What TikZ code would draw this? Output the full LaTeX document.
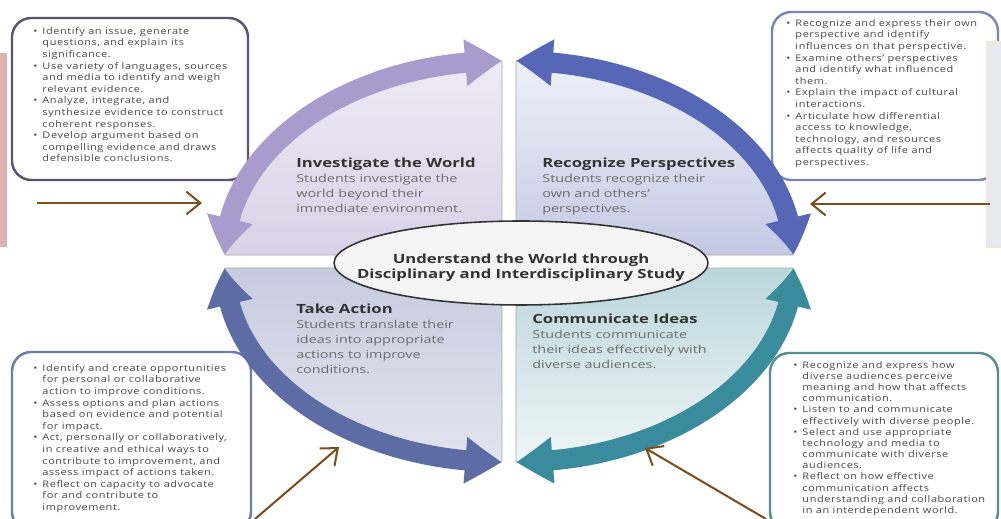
\documentclass[tikz,border=0pt]{standalone}
\usepackage{fontspec}
\usepackage{tikz}
\usetikzlibrary{arrows.meta,bending,shapes.geometric}
\setmainfont{Open Sans}
\newfontfamily\boxfont[FakeStretch=1.2,LetterSpace=6]{Open Sans}
\newfontfamily\quadfont[FakeStretch=1.32]{Open Sans}

\definecolor{pinkbar}{HTML}{D9B5AF}
\definecolor{greypanel}{HTML}{E7E8F0}
\definecolor{creamline}{HTML}{F2E6D6}
\definecolor{pointerbrown}{HTML}{7B4F1D}
\definecolor{investcol}{HTML}{A99BCB}
\definecolor{recogcol}{HTML}{5567B5}
\definecolor{actcol}{HTML}{5D6CA4}
\definecolor{commcol}{HTML}{3A8C9C}

\newcommand{\bu}{\makebox[5.2pt][l]{\textbullet}}
\newcommand{\hg}{\hspace*{5.2pt}}
\newcommand{\qtitle}[1]{{\color{black!80}\bfseries\fontsize{7.2}{8.54}\selectfont #1}}

\tikzset{
	infobox/.style={draw=#1, line width=1.4pt, rounded corners=11pt, fill=white},
	infotext/.style={anchor=north west, inner sep=0pt, align=left, text=black!72, font=\boxfont\fontsize{5.2}{6.6}\selectfont},
	quadtext/.style={anchor=north west, inner sep=0pt, align=left, text=black!58, font=\quadfont\fontsize{6.2}{8.54}\selectfont},
	quadfill/.style={draw=black!35, line width=0.5pt, top color=#1},
	cyclearrow/.style={draw=#1, line width=11.5pt, {Triangle[width=25pt,length=21pt,bend]}-{Triangle[width=25pt,length=21pt,bend]}},
	pointer/.style={draw=pointerbrown, line width=1.15pt, -{Straight Barb[length=8pt,width=13pt]}}
}

\begin{document}
\begin{tikzpicture}[x=0.02cm,y=0.02cm]
	\useasboundingbox (0,0) rectangle (1001,519);
	\fill[white] (0,0) rectangle (1001,519);

	\fill[pinkbar] (0,272) rectangle (7,466);
	\draw[infobox=black!45!investcol] (12,339) rectangle (248,501);
	\draw[infobox=black!20!recogcol!70] (772,339) rectangle (998,507);
	\draw[fill=greypanel, draw=creamline, line width=1pt] (987,272) rectangle (1006,477);
	\draw[infobox=actcol!90] (12,-12) rectangle (251,167);
	\draw[infobox=commcol!80!black!80] (770,-12) rectangle (998,166);

	\node[infotext] (t1) at (33,492) {\bu Identify an issue, generate\\
		\hg questions, and explain its\\
		\hg significance.\\
		\bu Use variety of languages, sources\\
		\hg and media to identify and weigh\\
		\hg relevant evidence.\\
		\bu Analyze, integrate, and\\
		\hg synthesize evidence to construct\\
		\hg coherent responses.\\
		\bu Develop argument based on\\
		\hg compelling evidence and draws\\
		\hg defensible conclusions.};
	\node[infotext] (t2) at (786,500) {\bu Recognize and express their own\\
		\hg perspective and identify\\
		\hg influences on that perspective.\\
		\bu Examine others’ perspectives\\
		\hg and identify what influenced\\
		\hg them.\\
		\bu Explain the impact of cultural\\
		\hg interactions.\\
		\bu Articulate how differential\\
		\hg access to knowledge,\\
		\hg technology, and resources\\
		\hg affects quality of life and\\
		\hg perspectives.};
	\node[infotext] (t3) at (33,155) {\bu Identify and create opportunities\\
		\hg for personal or collaborative\\
		\hg action to improve conditions.\\
		\bu Assess options and plan actions\\
		\hg based on evidence and potential\\
		\hg for impact.\\
		\bu Act, personally or collaboratively,\\
		\hg in creative and ethical ways to\\
		\hg contribute to improvement, and\\
		\hg assess impact of actions taken.\\
		\bu Reflect on capacity to advocate\\
		\hg for and contribute to\\
		\hg improvement.};
	\node[infotext, font=\boxfont\fontsize{5.2}{6.35}\selectfont] (t4) at (793,158) {\bu Recognize and express how\\
		\hg diverse audiences perceive\\
		\hg meaning and how that affects\\
		\hg communication.\\
		\bu Listen to and communicate\\
		\hg effectively with diverse people.\\
		\bu Select and use appropriate\\
		\hg technology and media to\\
		\hg communicate with diverse\\
		\hg audiences.\\
		\bu Reflect on how effective\\
		\hg communication affects\\
		\hg understanding and collaboration\\
		\hg in an interdependent world.};

	\path[quadfill=investcol!20, bottom color=investcol!45] (502,264) -- (225,264) arc[start angle=180, end angle=90, x radius=5.54cm, y radius=3.88cm] -- cycle;
	\path[quadfill=recogcol!10, bottom color=recogcol!35] (516,264) -- (516,458) arc[start angle=90, end angle=0, x radius=5.54cm, y radius=3.88cm] -- cycle;
	\path[quadfill=actcol!35, bottom color=actcol!18] (502,251) -- (225,251) arc[start angle=180, end angle=270, x radius=5.54cm, y radius=3.88cm] -- cycle;
	\path[quadfill=commcol!35, bottom color=commcol!8] (516,251) -- (516,57) arc[start angle=270, end angle=360, x radius=5.54cm, y radius=3.88cm] -- cycle;

	\draw[cyclearrow=investcol] (225,264) arc[start angle=180, end angle=90, x radius=5.54cm, y radius=3.88cm];
	\draw[cyclearrow=recogcol] (516,458) arc[start angle=90, end angle=0, x radius=5.54cm, y radius=3.88cm];
	\draw[cyclearrow=actcol] (225,251) arc[start angle=180, end angle=270, x radius=5.54cm, y radius=3.88cm];
	\draw[cyclearrow=commcol] (793,251) arc[start angle=0, end angle=-90, x radius=5.54cm, y radius=3.88cm];

	\node[quadtext] (q1) at (296,361) {\qtitle{Investigate the World}\\Students investigate the\\world beyond their\\immediate environment.};
	\node[quadtext] (q2) at (542,361) {\qtitle{Recognize Perspectives}\\Students recognize their\\own and others’\\perspectives.};
	\node[quadtext] (q3) at (296,215) {\qtitle{Take Action}\\Students translate their\\ideas into appropriate\\actions to improve\\conditions.};
	\node[quadtext] (q4) at (532,205) {\qtitle{Communicate Ideas}\\Students communicate\\their ideas effectively with\\diverse audiences.};

	\node[ellipse, draw=black!80, line width=0.9pt, fill=black!4, minimum width=7.48cm, minimum height=1.68cm] (c) at (521,256) {};
	\node[align=center, inner sep=0pt, text=black!80, font=\quadfont\bfseries\fontsize{7.2}{8.54}\selectfont] (ctext) at (521,251) {Understand the World through\\Disciplinary and Interdisciplinary Study};

	\coordinate (v1) at (37,316);
	\coordinate (v2) at (202,316);
	\coordinate (v3) at (990,315);
	\coordinate (v4) at (810,315);
	\coordinate (v5) at (255,0);
	\coordinate (v6) at (339,72);
	\coordinate (v7) at (766,0);
	\coordinate (v8) at (645,71);
	\path (v1) edge[pointer] (v2);
	\path (v3) edge[pointer] (v4);
	\path (v5) edge[pointer] (v6);
	\path (v7) edge[pointer] (v8);
\end{tikzpicture}
\end{document}
